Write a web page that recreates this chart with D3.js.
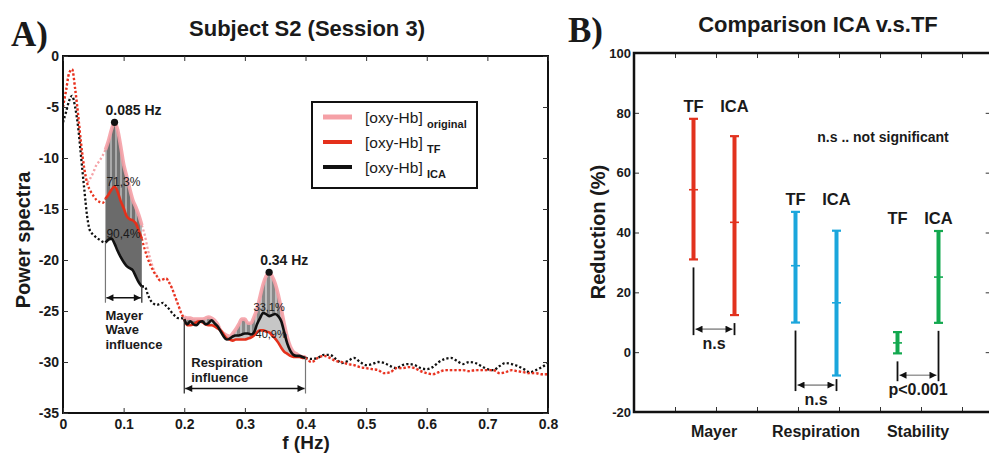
<!DOCTYPE html>
<html><head><meta charset="utf-8">
<script src="https://cdn.jsdelivr.net/npm/d3@7"></script>
<style>
body{margin:0;background:#fff}
text{font-family:"Liberation Sans",Arial,Helvetica,sans-serif;fill:#1a1a1a}
</style>
</head><body>
<svg id="chart" width="989" height="458"></svg>
<script>
// ---------------- DATA (panel A) ----------------
const freq = [0,0.005,0.01,0.015,0.02,0.025,0.03,0.035,0.04,0.045,0.05,0.055,0.06,0.065,0.07,0.075,0.08,0.085,0.09,0.095,
0.1,0.105,0.11,0.115,0.12,0.125,0.13,0.135,0.14,0.145,0.15,0.155,0.16,0.165,0.17,0.175,0.18,0.185,0.19,0.195,
0.2,0.205,0.21,0.215,0.22,0.225,0.23,0.235,0.24,0.245,0.25,0.255,0.26,0.265,0.27,0.275,0.28,0.285,0.29,0.295,
0.3,0.305,0.31,0.315,0.32,0.325,0.33,0.335,0.34,0.345,0.35,0.355,0.36,0.365,0.37,0.375,0.38,0.385,0.39,0.395,0.4,
0.41,0.42,0.43,0.44,0.45,0.46,0.47,0.48,0.49,0.5,0.51,0.52,0.53,0.54,0.55,0.56,0.57,0.58,0.59,0.6,
0.61,0.62,0.63,0.64,0.65,0.66,0.67,0.68,0.69,0.7,0.71,0.72,0.73,0.74,0.75,0.76,0.77,0.78,0.79,0.8];

const powerTF = [-5.0,-3.4,-1.7,-1.3,-3.2,-5.8,-8.7,-11.0,-12.5,-13.2,-13.7,-14.1,-14.3,-14.4,-14.0,-13.6,-13.1,-12.8,-13.3,-14.2,
-14.9,-15.7,-16.0,-16.1,-16.4,-17.1,-17.9,-19.0,-19.9,-20.6,-21.2,-21.6,-22.0,-21.9,-21.8,-22.2,-22.8,-23.6,-24.4,-25.2,
-25.8,-26.4,-26.4,-26.3,-26.1,-26.0,-26.1,-26.3,-26.4,-26.4,-26.5,-26.7,-26.9,-27.3,-27.7,-27.8,-27.9,-27.8,-27.8,-27.8,
-27.8,-27.7,-27.6,-27.4,-27.1,-26.9,-26.9,-27.0,-27.1,-27.4,-27.7,-28.1,-28.6,-29.0,-29.2,-29.4,-29.5,-29.5,-29.5,-29.6,-29.6,
-30.0,-29.6,-29.4,-29.6,-29.9,-30.0,-30.2,-30.3,-30.5,-30.6,-30.7,-30.8,-31.1,-31.0,-30.6,-30.6,-30.5,-30.6,-30.9,-31.1,
-31.2,-31.0,-30.8,-30.8,-30.8,-30.8,-30.9,-30.8,-30.8,-30.8,-30.8,-31.1,-31.0,-30.8,-30.9,-31.0,-31.1,-31.1,-31.2,-31.2];

const powerICA = [-6.5,-5.5,-4.4,-3.9,-5.0,-7.0,-10.0,-13.0,-15.8,-17.2,-17.5,-17.8,-18.0,-18.2,-18.3,-18.0,-17.9,-18.4,-19.1,-19.7,
-20.2,-20.6,-20.8,-21.0,-21.6,-22.2,-22.6,-22.6,-23.4,-24.0,-24.3,-24.4,-24.3,-24.2,-24.5,-24.8,-25.2,-25.5,-25.7,-25.7,
-25.8,-26.3,-26.0,-26.3,-26.4,-26.1,-26.0,-26.3,-26.2,-25.9,-26.2,-26.5,-27.0,-27.5,-27.8,-27.7,-27.5,-27.4,-27.4,-27.3,
-27.2,-27.2,-27.3,-27.1,-26.3,-25.7,-25.2,-25.3,-25.5,-25.4,-25.3,-25.5,-26.0,-27.1,-28.2,-28.9,-29.3,-29.4,-29.4,-29.5,-29.6,
-29.7,-29.6,-29.3,-29.3,-29.7,-30.1,-29.9,-29.6,-30.0,-30.3,-30.2,-30.0,-30.1,-30.4,-30.6,-30.3,-30.2,-30.3,-30.6,-30.7,
-30.5,-30.0,-29.7,-29.6,-29.9,-30.2,-30.0,-30.1,-30.4,-30.7,-30.8,-30.4,-30.1,-30.2,-30.4,-30.7,-31.0,-30.8,-30.5,-30.1];

const powerOriginal = [-5.0,-3.4,-1.7,-1.3,-3.2,-5.8,-8.7,-11.0,-12.4,-12.0,-11.4,-10.7,-10.3,-9.8,-9.2,-8.3,-7.2,-6.5,-7.2,-8.8,
-10.6,-11.8,-13.0,-14.1,-14.8,-15.6,-16.6,-17.6,-19.0,-20.1,-21.0,-21.6,-22.0,-21.9,-21.8,-22.2,-22.8,-23.6,-24.4,-25.2,
-25.6,-25.7,-25.7,-25.8,-25.8,-25.8,-25.8,-25.7,-25.6,-25.7,-25.9,-26.3,-26.9,-27.2,-27.4,-27.5,-27.2,-26.8,-26.3,-25.8,
-25.8,-26.2,-26.2,-25.6,-24.8,-23.6,-22.4,-21.6,-21.2,-21.6,-22.3,-23.4,-24.8,-26.3,-27.6,-28.5,-29.0,-29.2,-29.4,-29.5,-29.5,
-30.0,-29.6,-29.4,-29.6,-29.9,-30.0,-30.2,-30.3,-30.5,-30.6,-30.7,-30.8,-31.1,-31.0,-30.6,-30.6,-30.5,-30.6,-30.9,-31.1,
-31.2,-31.0,-30.8,-30.8,-30.8,-30.8,-30.9,-30.8,-30.8,-30.8,-30.8,-31.1,-31.0,-30.8,-30.9,-31.0,-31.1,-31.1,-31.2,-31.2];

const bandNames = ["Mayer","Respiration"];
const bandLow = [0.07, 0.2];
const bandHigh = [0.13, 0.4];
const peakFreq = [0.085, 0.34];
const peakLabels = ["0.085 Hz", "0.34 Hz"];
const pctTF = ["71,3%", "40,9%"];
const pctICA = ["90,4%", "33,1%"];
const xTicksA = [0,0.1,0.2,0.3,0.4,0.5,0.6,0.7,0.8];
const xTickLabelsA = ["0","0.1","0.2","0.3","0.4","0.5","0.6","0.7","0.8"];
const yTicksA = [0,-5,-10,-15,-20,-25,-30,-35];
const legendSubs = ["original","TF","ICA"];

// ---------------- DATA (panel B) ----------------
const groups = ["Mayer","Respiration","Stability"];
const methods = ["TF","ICA"];
const tfMean = [54.3, 28.9, 3.1];
const tfLow  = [31.0, 9.9, -0.4];
const tfHigh = [78.0, 46.9, 6.7];
const icaMean = [43.4, 16.5, 25.1];
const icaLow  = [12.4, -7.8, 9.8];
const icaHigh = [72.2, 40.6, 40.5];
const sigLabels = ["n.s","n.s","p<0.001"];
const sigLevel = [7.7, -11.0, -7.7];
const yTicksB = [100,80,60,40,20,0,-20];
const xTicksB = [1,2,3,4,5,6,7,8];

// ---------------- DRAW ----------------
const svg = d3.select("#chart");
const defs = svg.append("defs");
function stripe(id, base, light){
  const p = defs.append("pattern").attr("id",id).attr("width",5).attr("height",10)
    .attr("patternUnits","userSpaceOnUse");
  p.append("rect").attr("width",5).attr("height",10).attr("fill",base);
  p.append("rect").attr("width",2).attr("height",10).attr("fill",light);
}
stripe("stripeM","#727272","#a9a9a9");
stripe("stripeR","#8a8a8a","#bdbdbd");
function marker(id,color){
  defs.append("marker").attr("id",id).attr("viewBox","0 0 10 10").attr("refX",10).attr("refY",5)
    .attr("markerWidth",9).attr("markerHeight",7).attr("markerUnits","userSpaceOnUse")
    .attr("orient","auto-start-reverse")
    .append("path").attr("d","M0,0L10,5L0,10Z").attr("fill",color);
}
marker("arrA","#111");

// ===== Panel A =====
const xA = d3.scaleLinear().domain([0,0.8]).range([63,548]);
const yA = d3.scaleLinear().domain([-35,0]).range([413,56]);
const A = svg.append("g");

defs.append("clipPath").attr("id","clipA").append("rect")
  .attr("x",xA(0)).attr("y",yA(0)).attr("width",xA(0.8)-xA(0)).attr("height",yA(-35)-yA(0));

const pts = freq.map((f,i)=>({f, o:powerOriginal[i], t:powerTF[i], c:powerICA[i]}));
const inRange = (lo,hi)=>pts.filter(p=>p.f>=lo-1e-9 && p.f<=hi+1e-9);
const lineOf = key => d3.line().x(p=>xA(p.f)).y(p=>yA(p[key])).curve(d3.curveMonotoneX);
const plotA = A.append("g").attr("clip-path","url(#clipA)");

// outside segments (dotted)
const outside = [[0,bandLow[0]],[bandHigh[0],bandLow[1]],[bandHigh[1],0.8]];
const dotted = [["o","#f5a3a8"],["c","#111"],["t","#e8321c"]];
dotted.forEach(([k,col])=>{
  outside.forEach(([lo,hi])=>{
    plotA.append("path").attr("d",lineOf(k)(inRange(lo,hi))).attr("fill","none")
      .attr("stroke",col).attr("stroke-width",2.3).attr("stroke-dasharray","2.2,2.2");
  });
});

// Mayer band fill
const mPts = inRange(bandLow[0],bandHigh[0]);
const rPts = inRange(bandLow[1],bandHigh[1]);
const area = (y0,y1)=>d3.area().x(p=>xA(p.f)).y0(y0).y1(y1).curve(d3.curveMonotoneX);
plotA.append("path").attr("d",area(p=>yA(p.c),p=>yA(p.t))(mPts)).attr("fill","#6b6b6b");
plotA.append("path").attr("d",area(p=>yA(p.t),p=>yA(p.o))(mPts)).attr("fill","url(#stripeM)");
// Respiration band fill
plotA.append("path").attr("d",area(p=>yA(Math.min(p.t,p.c)),p=>yA(Math.max(p.t,p.c)))(rPts)).attr("fill","#c6c6c6");
plotA.append("path").attr("d",area(p=>yA(Math.max(p.t,p.c)),p=>yA(p.o))(rPts)).attr("fill","url(#stripeR)");

// solid lines in bands
[mPts,rPts].forEach(seg=>{
  plotA.append("path").attr("d",lineOf("o")(seg)).attr("fill","none").attr("stroke","#f5a0a6")
    .attr("stroke-width",3.6).attr("stroke-opacity",0.9).attr("stroke-linejoin","round");
  plotA.append("path").attr("d",lineOf("t")(seg)).attr("fill","none").attr("stroke","#e4301b")
    .attr("stroke-width",2.6).attr("stroke-linejoin","round");
  plotA.append("path").attr("d",lineOf("c")(seg)).attr("fill","none").attr("stroke","#111")
    .attr("stroke-width",2.6).attr("stroke-linejoin","round");
});

// frame & axes
A.append("rect").attr("x",xA(0)).attr("y",yA(0)).attr("width",xA(0.8)-xA(0)).attr("height",yA(-35)-yA(0))
  .attr("fill","none").attr("stroke","#111").attr("stroke-width",2);
function styleAxis(g, fs){
  g.select(".domain").remove();
  g.selectAll("line").attr("stroke","#333").attr("stroke-width",1);
  g.selectAll("text").attr("font-size",fs).attr("font-weight","bold").attr("fill","#1a1a1a")
   .style("font-family","'Liberation Sans',Arial,sans-serif");
}
A.append("g").attr("transform",`translate(0,${yA(-35)})`)
  .call(d3.axisBottom(xA).tickValues(xTicksA).tickSize(-5).tickPadding(6).tickFormat((d,i)=>xTickLabelsA[i]))
  .call(g=>styleAxis(g,14));
A.append("g").attr("transform",`translate(0,${yA(0)})`)
  .call(d3.axisTop(xA).tickValues(xTicksA).tickSize(-5).tickFormat(""))
  .call(g=>styleAxis(g,14));
A.append("g").attr("transform",`translate(${xA(0)},0)`)
  .call(d3.axisLeft(yA).tickValues(yTicksA).tickSize(-5).tickPadding(4).tickFormat(d=>String(d)))
  .call(g=>styleAxis(g,14));
A.append("g").attr("transform",`translate(${xA(0.8)},0)`)
  .call(d3.axisRight(yA).tickValues(yTicksA).tickSize(-5).tickFormat(""))
  .call(g=>styleAxis(g,14));

// peaks
peakFreq.forEach((f,i)=>{
  const p = pts.find(q=>Math.abs(q.f-f)<1e-9);
  A.append("circle").attr("cx",xA(p.f)).attr("cy",yA(p.o)).attr("r",3.6).attr("fill","#111");
  A.append("text").attr("x",xA(p.f)-9).attr("y",yA(p.o)-7).attr("font-size",14).attr("font-weight","bold")
    .text(peakLabels[i]);
});
// percent labels
{
  const mt = d3.max(mPts,p=>p.t), mc = d3.max(mPts,p=>p.c);
  A.append("text").attr("x",xA(bandLow[0])+1).attr("y",yA(mt)-1).attr("font-size",12).attr("fill","#333").text(pctTF[0]);
  A.append("text").attr("x",xA(bandLow[0])+1).attr("y",yA(mc)-1).attr("font-size",12).attr("fill","#333").text(pctICA[0]);
  const rc = d3.max(rPts,p=>p.c);
  const pk = pts.find(q=>Math.abs(q.f-peakFreq[1])<1e-9);
  A.append("text").attr("x",xA(peakFreq[1])).attr("y",yA(rc)-2).attr("font-size",11).attr("fill","#333")
    .attr("text-anchor","middle").text(pctICA[1]);
  A.append("text").attr("x",xA(peakFreq[1])+2).attr("y",yA(pk.t)+6).attr("font-size",11).attr("fill","#333")
    .attr("text-anchor","middle").text(pctTF[1]);
}
// band influence annotations
const annoLevel = [-23.7, -32.6];
bandNames.forEach((name,i)=>{
  const lo = bandLow[i], hi = bandHigh[i];
  const pLo = pts.find(q=>Math.abs(q.f-lo)<1e-9), pHi = pts.find(q=>Math.abs(q.f-hi)<1e-9);
  const ay = yA(annoLevel[i]);
  A.append("line").attr("x1",xA(lo)).attr("x2",xA(lo)).attr("y1",yA(Math.min(pLo.c,pLo.t))).attr("y2",ay+5)
    .attr("stroke", i===0?"#777":"#222").attr("stroke-width",1.2);
  A.append("line").attr("x1",xA(hi)).attr("x2",xA(hi)).attr("y1",yA(Math.min(pHi.c,pHi.t))).attr("y2",ay+5)
    .attr("stroke", i===0?"#222":"#777").attr("stroke-width",1.2);
  A.append("line").attr("x1",xA(lo)+1).attr("x2",xA(hi)-1).attr("y1",ay).attr("y2",ay)
    .attr("stroke","#111").attr("stroke-width",1.3)
    .attr("marker-start","url(#arrA)").attr("marker-end","url(#arrA)");
  const lines = i===0 ? ["Mayer","Wave","influence"] : ["Respiration","influence"];
  lines.forEach((t,j)=>{
    const y = i===0 ? ay+22+j*14.5 : ay-22+j*15;
    A.append("text").attr("x",xA(lo)+(i===0?0:7)).attr("y",y).attr("font-size",13).attr("font-weight","bold")
      .attr("fill","#333").text(t);
  });
});

// legend
{
  const lg = A.append("g");
  lg.append("rect").attr("x",312).attr("y",102).attr("width",165).attr("height",86)
    .attr("fill","#fff").attr("stroke","#111").attr("stroke-width",2);
  const cols = ["#f5a0a6","#e4301b","#111"], widths=[5,4,4];
  legendSubs.forEach((s,i)=>{
    const y = 117 + i*25;
    lg.append("line").attr("x1",323).attr("x2",352).attr("y1",y).attr("y2",y)
      .attr("stroke",cols[i]).attr("stroke-width",widths[i]);
    const t = lg.append("text").attr("x",365).attr("y",y+6).attr("font-size",15.5);
    t.append("tspan").text("[oxy-Hb] ");
    t.append("tspan").attr("dy",5).attr("font-size",11).attr("font-weight","bold").text(s);
  });
}

// titles and axis titles
svg.append("text").attr("x",307).attr("y",36).attr("text-anchor","middle").attr("font-size",22)
  .attr("font-weight","bold").text("Subject S2 (Session 3)");
svg.append("text").attr("x",11).attr("y",46).attr("font-size",35).attr("font-weight","bold")
  .style("font-family","'Liberation Serif','Times New Roman',serif").text("A)");
svg.append("text").attr("x",306).attr("y",449).attr("text-anchor","middle").attr("font-size",19)
  .attr("font-weight","bold").text("f (Hz)");
svg.append("text").attr("transform","translate(30,240) rotate(-90)").attr("text-anchor","middle")
  .attr("font-size",20).attr("font-weight","bold").text("Power spectra");

// ===== Panel B =====
const yB = d3.scaleLinear().domain([-20,100]).range([412,53]);
const xTB = d3.scaleLinear().domain([0,8.7]).range([634,990.7]);
const gx = d3.scalePoint().domain(groups).range([714,918]);
const half = 20.5;
const B = svg.append("g");
const colors = ["#e2321e","#1ba6dc","#13a84f"];

B.append("g").attr("transform",`translate(0,${yB(-20)})`)
  .call(d3.axisBottom(xTB).tickValues(xTicksB).tickSize(-5).tickFormat(""))
  .call(g=>styleAxis(g,13));
B.append("g").attr("transform",`translate(0,${yB(100)})`)
  .call(d3.axisTop(xTB).tickValues(xTicksB).tickSize(-5).tickFormat(""))
  .call(g=>styleAxis(g,13));
B.append("g").attr("transform",`translate(${xTB(0)},0)`)
  .call(d3.axisLeft(yB).tickValues(yTicksB).tickSize(-5).tickPadding(3).tickFormat(d=>String(d)))
  .call(g=>styleAxis(g,13));
B.append("g").attr("transform",`translate(${xTB(8.7)},0)`)
  .call(d3.axisRight(yB).tickValues(yTicksB).tickSize(-5).tickFormat(""))
  .call(g=>styleAxis(g,13));
B.append("path").attr("d",`M${xTB(8.7)},${yB(100)}H${xTB(0)}V${yB(-20)}H${xTB(8.7)}`)
  .attr("fill","none").attr("stroke","#111").attr("stroke-width",2.5);

marker("arrB","#111");
groups.forEach((gname,i)=>{
  const cx = gx(gname);
  const bars = [
    {m:methods[0], x:cx-half, lo:tfLow[i], hi:tfHigh[i], mean:tfMean[i]},
    {m:methods[1], x:cx+half, lo:icaLow[i], hi:icaHigh[i], mean:icaMean[i]}
  ];
  const top = d3.max(bars,b=>b.hi);
  bars.forEach(b=>{
    B.append("line").attr("x1",b.x).attr("x2",b.x).attr("y1",yB(b.lo)).attr("y2",yB(b.hi))
      .attr("stroke",colors[i]).attr("stroke-width",4);
    [b.lo,b.hi].forEach(v=>B.append("line").attr("x1",b.x-4.5).attr("x2",b.x+4.5).attr("y1",yB(v)).attr("y2",yB(v))
      .attr("stroke",colors[i]).attr("stroke-width",2.2));
    B.append("line").attr("x1",b.x-4.5).attr("x2",b.x+4.5).attr("y1",yB(b.mean)).attr("y2",yB(b.mean))
      .attr("stroke",colors[i]).attr("stroke-width",1.6);
    B.append("text").attr("x",b.x).attr("y",yB(top)-7).attr("text-anchor","middle")
      .attr("font-size",16.5).attr("font-weight","bold").text(b.m);
  });
  // significance bracket
  const ay = yB(sigLevel[i]);
  bars.forEach(b=>{
    const y1 = yB(b.lo)+8;
    B.append("line").attr("x1",b.x).attr("x2",b.x).attr("y1",Math.min(y1,ay-6)).attr("y2",ay+6)
      .attr("stroke","#111").attr("stroke-width",1.8);
  });
  B.append("line").attr("x1",cx-half+2).attr("x2",cx+half-2).attr("y1",ay).attr("y2",ay)
    .attr("stroke","#9a9a9a").attr("stroke-width",1.6)
    .attr("marker-start","url(#arrB)").attr("marker-end","url(#arrB)");
  B.append("text").attr("x",cx).attr("y",ay+20).attr("text-anchor","middle")
    .attr("font-size",16).attr("font-weight","bold").text(sigLabels[i]);
  B.append("text").attr("x",cx).attr("y",437).attr("text-anchor","middle")
    .attr("font-size",16).attr("font-weight","bold").text(gname);
});
B.append("text").attr("x",883).attr("y",142).attr("text-anchor","middle").attr("font-size",14)
  .attr("font-weight","bold").text("n.s .. not significant");
svg.append("text").attr("x",818).attr("y",32).attr("text-anchor","middle").attr("font-size",22)
  .attr("font-weight","bold").text("Comparison ICA v.s.TF");
svg.append("text").attr("x",568).attr("y",42).attr("font-size",35).attr("font-weight","bold")
  .style("font-family","'Liberation Serif','Times New Roman',serif").text("B)");
svg.append("text").attr("transform","translate(605,232) rotate(-90)").attr("text-anchor","middle")
  .attr("font-size",20).attr("font-weight","bold").text("Reduction (%)");
</script>
</body></html>
